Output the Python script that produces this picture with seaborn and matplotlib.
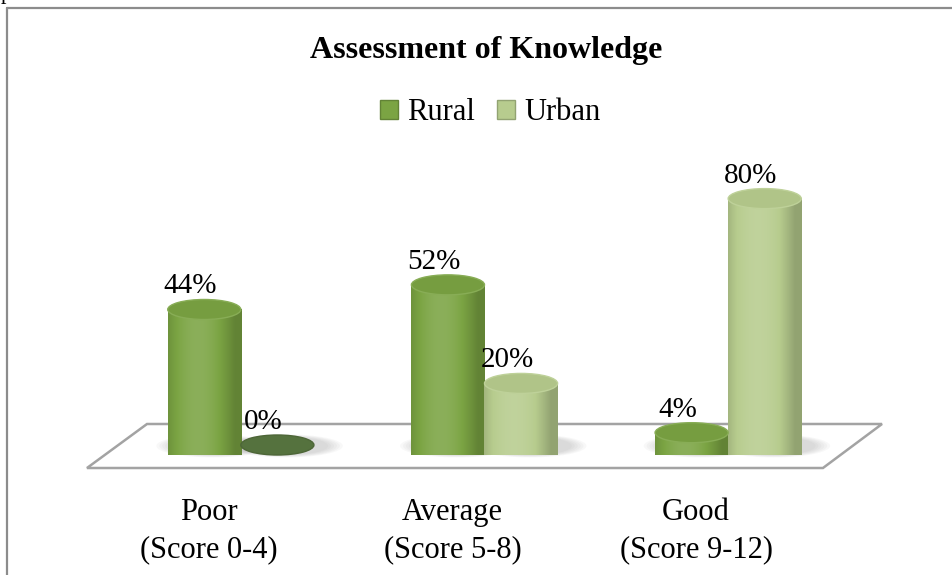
import numpy as np
import pandas as pd
import seaborn as sns
import matplotlib.pyplot as plt
from matplotlib.colors import to_rgb
from matplotlib.patches import Ellipse, Polygon, Patch
from matplotlib.lines import Line2D
from matplotlib.transforms import ScaledTranslation

# --- data ---
categories = ['Poor\n(Score 0-4)', 'Average\n(Score 5-8)', 'Good\n(Score 9-12)']
series = ['Rural', 'Urban']
rural = [44, 52, 4]
urban = [0, 20, 80]

df = pd.DataFrame({
    'level': categories * 2,
    'area': ['Rural'] * 3 + ['Urban'] * 3,
    'pct': rural + urban,
})
palette = {'Rural': '#7ba443', 'Urban': '#b7cc8e'}

sns.set_theme(style='white')
plt.rcParams['font.family'] = ['Liberation Serif', 'DejaVu Serif']
plt.rcParams['text.color'] = 'black'
plt.rcParams['xtick.color'] = 'black'

W, H = 952, 575
fig = plt.figure(figsize=(W / 100, H / 100), dpi=100)
ax = fig.add_axes([119 / W, 130 / H, 731 / W, 308 / H])

sns.barplot(data=df, x='level', y='pct', hue='area', palette=palette,
            width=0.6, saturation=1, legend=False, ax=ax)
ax.set_xlim(-0.5, 2.5)
ax.set_ylim(0, 100)

px_per_unit = 308 / 100
eh = 20 / px_per_unit  # ellipse height in data units


def shade(base, f):
    base = np.asarray(base)
    if f <= 1:
        return base * f
    return base + (1 - base) * (f - 1)


light = np.array([-0.3, 1.0])
light = light / np.linalg.norm(light)

# floor
floor = Polygon([[0.0383, 0.0682], [1.0438, 0.0682], [0.963, -0.0747], [-0.0438, -0.0747]],
                closed=True, transform=ax.transAxes, clip_on=False,
                facecolor='white', edgecolor='#a3a3a3', lw=1.8, zorder=0.5)
ax.add_patch(floor)

# turn flat bars into cylinders
for bar in list(ax.patches):
    if bar is floor:
        continue
    x0, w, h = bar.get_x(), bar.get_width(), bar.get_height()
    base = np.array(bar.get_facecolor()[:3])
    bar.set_visible(False)
    cx = x0 + w / 2

    # soft base shadow
    for k in range(6):
        ax.add_patch(Ellipse((cx + w * 0.12, -0.3), w * (1.55 - 0.08 * k), eh * (1.15 - 0.05 * k),
                             facecolor='#7f7f7f', edgecolor='none', alpha=0.05, zorder=1,
                             clip_on=False))

    if h > 0:
        t = np.linspace(0, np.pi, 80)
        arc = np.column_stack([cx + w / 2 * np.cos(t), -eh / 2 * np.sin(t)])
        verts = np.vstack([[x0, h], [x0 + w, h], arc])
        body = Polygon(verts, closed=True, facecolor='none', edgecolor='none', zorder=2, clip_on=False)
        ax.add_patch(body)

        u = np.linspace(0, 1, 200)
        theta = (u - 0.5) * np.pi
        diff = np.clip(np.sin(theta) * light[0] + np.cos(theta) * light[1], 0, None)
        cols = np.array([shade(base, 0.8 + 0.32 * d) for d in diff])
        img = np.clip(np.stack([cols, cols]), 0, 1)
        im = ax.imshow(img, extent=[x0, x0 + w, -eh / 2, h], aspect='auto',
                       interpolation='bilinear', zorder=2, clip_on=False)
        im.set_clip_path(body)
        cap_col = shade(base, 0.96)
        rim = shade(base, 1.1)
    else:
        cap_col = shade(base * np.array([0.75, 0.9, 0.7]), 0.62)
        rim = shade(cap_col, 0.9)
    ax.add_patch(Ellipse((cx, h), w, eh, facecolor=cap_col, edgecolor=rim,
                         lw=1.0, zorder=3, clip_on=False))

    ax.annotate(f'{h:.0f}%', (cx, h + eh / 2), xytext=(-10, 0), textcoords='offset points',
                ha='center', va='bottom', fontsize=21, zorder=5)

ax.set_xlim(-0.5, 2.5)
ax.set_ylim(0, 100)
ax.set_xlabel('')
ax.set_ylabel('')
ax.set_yticks([])
sns.despine(ax=ax, left=True, bottom=True)
ax.tick_params(axis='x', length=0, pad=38, labelsize=22)
for lab in ax.get_xticklabels():
    lab.set_linespacing(1.4)
    lab.set_transform(lab.get_transform() + ScaledTranslation(-0.32, 0, fig.dpi_scale_trans))

# title and legend
fig.text(486 / W, 1 - 58 / H, 'Assessment of Knowledge', ha='center', va='baseline',
         fontsize=23, fontweight='bold')
handles = [Patch(facecolor=palette[s], edgecolor=shade(to_rgb(palette[s]), 0.8)) for s in series]
fig.legend(handles, series, loc='center', bbox_to_anchor=(490 / W, 1 - 113 / H), ncol=2,
           frameon=False, fontsize=22, handlelength=0.6, handleheight=0.6,
           handletextpad=0.3, columnspacing=0.7)

# outer frame of the chart area
fig.add_artist(Line2D([7 / W, 7 / W], [0, 1 - 8 / H], color='#8c8c8c', lw=1.6))
fig.add_artist(Line2D([7 / W, 1], [1 - 8 / H, 1 - 8 / H], color='#8c8c8c', lw=1.6))
fig.text(1 / W, 1 + 1 / H, 'p', fontsize=16, va='baseline', ha='left')

fig.savefig('out.png', dpi=100)
